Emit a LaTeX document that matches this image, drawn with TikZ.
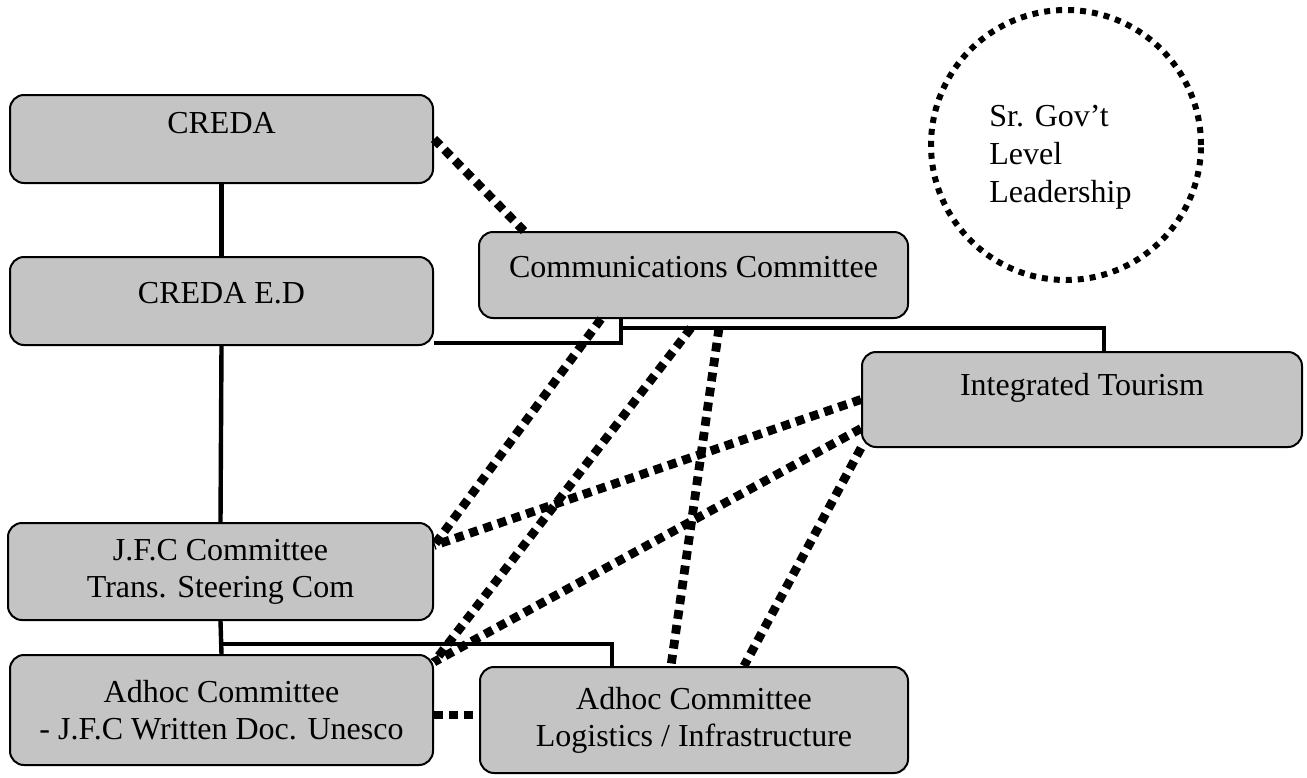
\documentclass[tikz,border=0pt]{standalone}
\usepackage{fontspec}
\setmainfont{Liberation Serif}
\begin{document}
\begin{tikzpicture}[x=0.5pt, y=-0.5pt,
  box node/.style={rectangle, rounded corners=7pt, draw, line width=1pt, fill=black!23, align=center, inner sep=0pt, font=\fontsize{16}{18.5}\selectfont},
  solid link/.style={line width=2.2pt},
  dot link/.style={line width=4.4pt, dash pattern=on 4.4pt off 3.1pt}]
\useasboundingbox (0,0) rectangle (1307,777);
\begin{scope}
\node[box node, minimum width=211.5pt, minimum height=44pt, text depth=16pt] (creda) at (221.5,139) {CREDA};
\node[box node, minimum width=211.5pt, minimum height=44pt, text depth=8pt] (credaed) at (221.5,301) {CREDA E.D};
\node[box node, minimum width=212.5pt, minimum height=48.5pt] (jfc) at (220.5,571.5) {J.F.C Committee\\Trans. Steering Com};
\node[box node, minimum width=211.5pt, minimum height=55pt] (adhocifc) at (221.5,710) {Adhoc Committee\\- J.F.C Written Doc. Unesco};
\node[box node, minimum width=214.5pt, minimum height=43pt, text depth=8pt] (comm) at (693.5,275) {Communications Committee};
\node[box node, minimum width=220pt, minimum height=47.5pt, text depth=15pt] (tourism) at (1082,399.5) {Integrated Tourism};
\node[box node, minimum width=214pt, minimum height=53pt] (adhoclog) at (694,720) {Adhoc Committee\\Logistics / Infrastructure};
\node[circle, draw, line width=3pt, dash pattern=on 3pt off 3pt, minimum size=135pt, inner sep=0pt] (lead) at (1066,145) {};
\node[anchor=west, align=left, inner sep=0pt, font=\fontsize{16}{19}\selectfont] (leadtext) at (989,157) {Sr. Gov't\\Level\\Leadership};
\end{scope}
\begin{scope}[solid link]
\draw (creda.south) -- (credaed.north);
\draw (credaed.south) -- (jfc.north);
\draw (jfc.south) -- (adhocifc.north);
\draw (jfc.south) ++(0,23) -| ([xshift=66.5pt]adhoclog.north west);
\draw ([yshift=1.5pt]credaed.south east) -| ([xshift=71.5pt]comm.south west);
\draw ([xshift=71.5pt, yshift=-4.5pt]comm.south west) -| ([xshift=121.5pt]tourism.north west);
\end{scope}
\begin{scope}[dot link]
\draw (creda.east) -- ([xshift=23pt]comm.north west);
\draw ([xshift=61.5pt]comm.south west) -- ([yshift=13pt]jfc.east);
\draw ([xshift=106.5pt, yshift=-4.5pt]comm.south west) -- ([yshift=-4pt]adhocifc.north east);
\draw ([xshift=120.5pt, yshift=-4.5pt]comm.south west) -- ([xshift=96pt]adhoclog.north west);
\draw (tourism.west) -- ([yshift=13pt]jfc.east);
\draw ([yshift=-14.5pt]tourism.west) -- ([yshift=-4pt]adhocifc.north east);
\draw (tourism.south west) -- ([xshift=132.5pt]adhoclog.north west);
\draw ([yshift=-2.5pt]adhocifc.east) -- ([yshift=2.5pt]adhoclog.west);
\end{scope}
\end{tikzpicture}
\end{document}
